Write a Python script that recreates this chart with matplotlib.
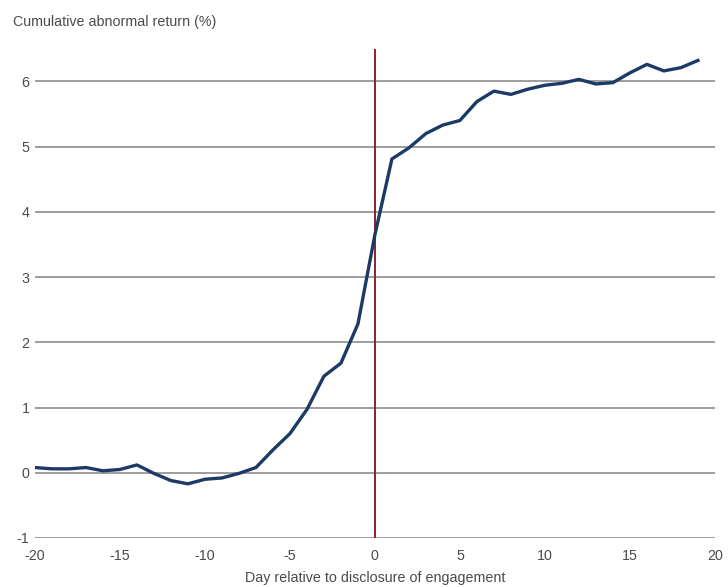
import numpy as np
import matplotlib
matplotlib.use('Agg')
import matplotlib.pyplot as plt

## Data
days = np.arange(-20, 20)
car = [0.08, 0.06, 0.06, 0.08, 0.03, 0.05, 0.12, -0.01, -0.12, -0.17,
       -0.10, -0.08, -0.01, 0.08, 0.35, 0.60, 0.97, 1.48, 1.68, 2.28,
       3.65, 4.81, 4.98, 5.20, 5.33, 5.40, 5.69, 5.85, 5.80, 5.88,
       5.94, 5.97, 6.03, 5.96, 5.98, 6.13, 6.26, 6.16, 6.21, 6.32]
xticks = [-20, -15, -10, -5, 0, 5, 10, 15, 20]
yticks = [-1, 0, 1, 2, 3, 4, 5, 6]

plt.rcParams['font.family'] = ['Liberation Sans', 'DejaVu Sans']
plt.rcParams['axes.unicode_minus'] = False
txt = '#4a4a4a'

fig = plt.figure(figsize=(7.28, 5.87), dpi=100)
ax = fig.add_axes([0.048, 0.0835, 0.934, 0.8335])

for y in yticks:
    ax.axhline(y, color='#8c8c8c', lw=1.2, zorder=1)
ax.axvline(0, color='#8b2332', lw=1.4, zorder=2)
ax.plot(days, car, color='#1b3a66', lw=2.4, zorder=3)

ax.set_xlim(-20, 20)
ax.set_ylim(-1, 6.5)
ax.set_xticks(xticks)
ax.set_yticks(yticks)
ax.tick_params(length=0, labelsize=10.3, colors=txt, pad=8)
ax.tick_params(axis='y', pad=4)
for s in ax.spines.values():
    s.set_visible(False)

ax.set_xlabel('Day relative to disclosure of engagement', fontsize=10.3, color=txt, labelpad=6)
fig.text(0.018, 0.962, 'Cumulative abnormal return (%)', fontsize=10.3, color=txt, va='center')

fig.savefig('out.png', dpi=100)
